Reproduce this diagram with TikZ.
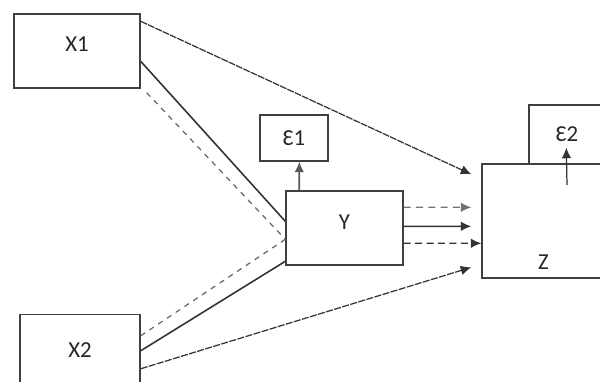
\documentclass[tikz,border=0pt]{standalone}
\usepackage{fontspec}
\setmainfont{Carlito}
\usetikzlibrary{calc,arrows.meta}
\tikzset{
	varbox/.style={draw=black!75, line width=0.8pt, inner sep=0pt, text=black!85, font=\fontsize{13}{15}\selectfont},
	path/.style={line width=0.7pt, color=black!80},
	tip/.style={-{Latex[length=6pt,width=5.5pt]}}
}

\begin{document}
\begin{tikzpicture}[x=0.02cm, y=-0.02cm]
			%%%%% START %%%%%
			
			\useasboundingbox (0, 0) rectangle (600, 382);
			\clip (0, 0) rectangle (600, 382);
			
			% variables
			\node[varbox, minimum width=2.52cm, minimum height=1.48cm, label={[varbox, draw=none, yshift=0.14cm]center:X1}] (x1) at (77, 51) {};
			\node[varbox, minimum width=2.4cm, minimum height=1.7cm, label={[varbox, draw=none, yshift=0.14cm]center:X2}] (x2) at (80, 357) {};
			\node[varbox, minimum width=1.36cm, minimum height=0.92cm] (e1) at (294, 138) {Ɛ1};
			\node[varbox, minimum width=2.34cm, minimum height=1.48cm, label={[varbox, draw=none, yshift=0.12cm]center:Y}] (y) at (344.5, 228) {};
			\node[varbox, minimum width=1.52cm, minimum height=1.18cm] (e2) at (567, 134.5) {Ɛ2};
			\node[varbox, fill=white, minimum width=2.46cm, minimum height=2.28cm, label={[varbox, draw=none, yshift=-0.82cm]center:Z}] (z) at (543.5, 221) {};
			
			% X1 paths
			\draw[path, tip, dash pattern=on 4pt off 0.6pt] ($(x1.north east)+(0, 8)$) -- ($(z.north west)+(-10, 11)$);
			\draw[path, line width=0.9pt] ($(x1.north east)+(0, 48)$) -- ($(y.north west)+(0, 31)$);
			\draw[path, color=black!60, dash pattern=on 3pt off 3pt] ($(x1.south east)+(6, 4)$) -- ($(y.north west)+(0, 49)$);
			
			% X2 paths
			\draw[path, color=black!60, dash pattern=on 3pt off 3pt] ($(x2.north east)+(0, 22)$) -- ($(y.north west)+(0, 49)$);
			\draw[path, line width=0.9pt] ($(x2.north east)+(0, 37)$) -- ($(y.north west)+(0, 71)$);
			\draw[path, tip, dash pattern=on 4pt off 0.8pt] ($(x2.north east)+(0, 55)$) -- ($(z.north west)+(-10, 104)$);
			
			% Y to Z
			\draw[path, tip, color=black!55, dash pattern=on 4pt off 3pt] ($(y.north east)+(0, 17)$) -- ($(z.north west)+(-10, 44)$);
			\draw[path, tip, line width=0.9pt] ($(y.north east)+(0, 36)$) -- ($(z.north west)+(-10, 63)$);
			\draw[path, tip, dash pattern=on 4pt off 2.5pt] ($(y.north east)+(0, 53)$) -- ($(z.north west)+(0, 80)$);
			
			% errors
			\draw[path, tip, color=black!65, line width=1pt] ($(y.north west)+(14, 0)$) -- ($(e1.south west)+(40, 0)$);
			\coordinate (zt) at (567, 185);
			\draw[path, tip] (zt) -- ($(e2.south west)+(38, -17)$);
			
			%%%%% END %%%%%
\end{tikzpicture}
\end{document}
